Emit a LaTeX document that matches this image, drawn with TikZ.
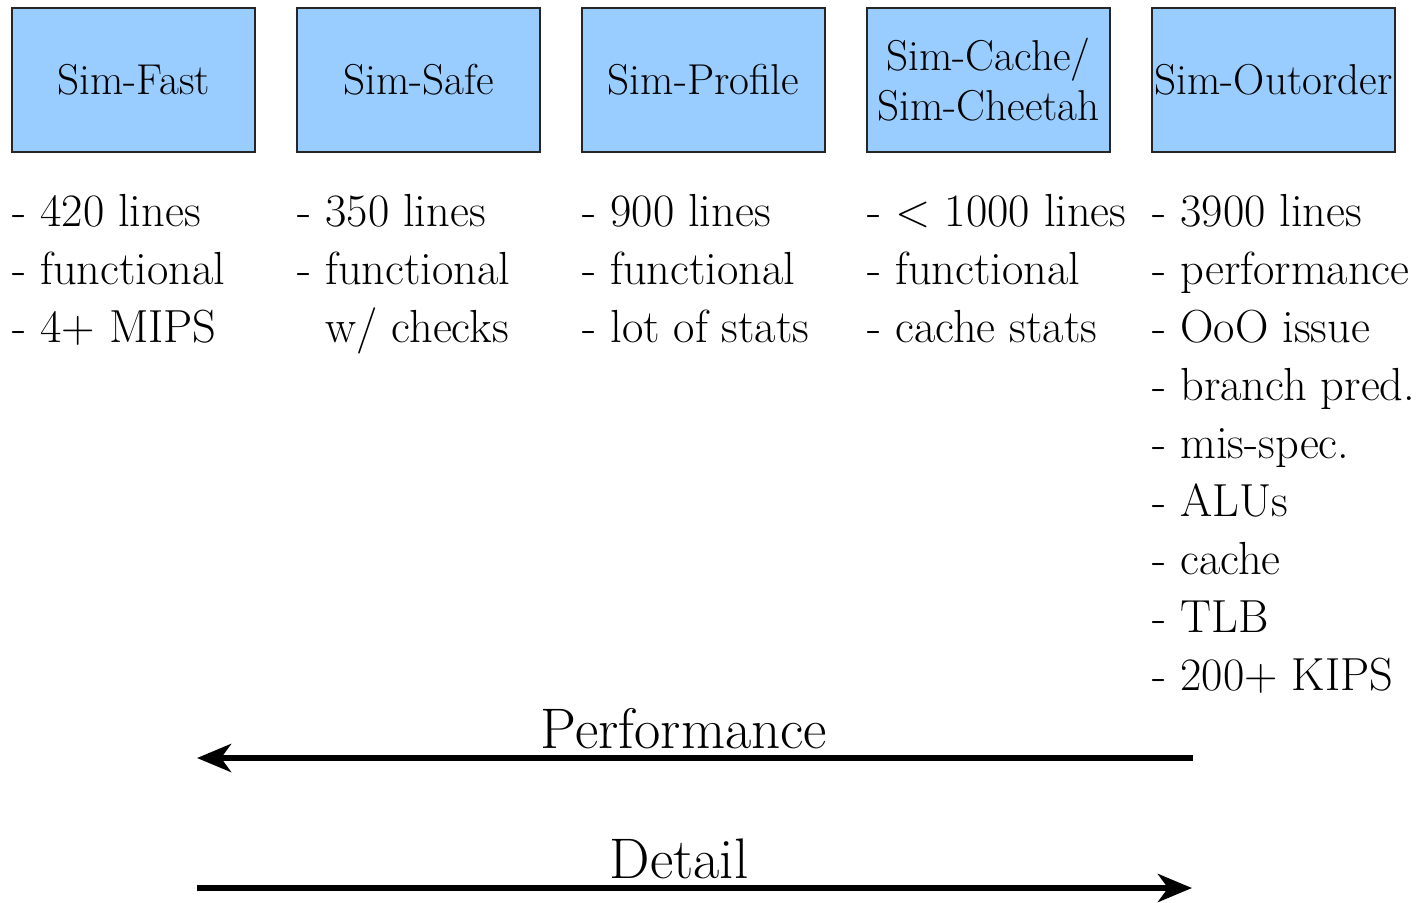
\documentclass[tikz,border=0pt]{standalone}
\usepackage{xcolor}
\usepackage{tikz}
\usetikzlibrary{arrows.meta}
\definecolor{simblue}{RGB}{153,204,255}
\tikzset{
  simbox/.style={draw=black!85, line width=1.2pt, fill=simblue, minimum width=121.5pt,
    minimum height=72pt, inner sep=0pt, align=center, font=\fontsize{21.6}{25}\selectfont},
  notes/.style={anchor=north west, inner sep=0pt, align=left, execute at begin node=\strut,
    font=\fontsize{23.2}{29}\selectfont},
  bigarrow/.style={line width=3pt, -{Stealth[length=17pt,width=14pt,inset=5pt]}},
  axislabel/.style={anchor=base, inner sep=0pt, font=\fontsize{28.6}{32}\selectfont}
}

\begin{document}
\begin{tikzpicture}[x=1pt,y=1pt]
\useasboundingbox (0,0) rectangle (712.5,-451);
% simulators
\node[simbox] (fast) at (66.75,-40) {Sim-Fast};
\node[simbox] (safe) at (209.25,-40) {Sim-Safe};
\node[simbox] (profile) at (351.75,-40) {Sim-Profile};
\node[simbox] (cache) at (494.25,-40) {Sim-Cache/\\Sim-Cheetah};
\node[simbox] (outorder) at (636.75,-40) {Sim-Outorder};
% features
\node[notes] (fastnotes) at (6,-97) {- 420 lines\\- functional\\- 4+ MIPS};
\node[notes] (safenotes) at (148.5,-97) {- 350 lines\\- functional\\\phantom{- }w/ checks};
\node[notes] (profilenotes) at (291,-97) {- 900 lines\\- functional\\- lot of stats};
\node[notes] (cachenotes) at (433.5,-97) {- < 1000 lines\\- functional\\- cache stats};
\node[notes] (outordernotes) at (576,-97) {- 3900 lines\\- performance\\- OoO issue\\- branch pred.\\- mis-spec.\\- ALUs\\- cache\\- TLB\\- 200+ KIPS};
% trade-off
\coordinate (perfstart) at (596.5,-379);
\coordinate (perfend) at (98.5,-379);
\coordinate (detstart) at (98.5,-444);
\coordinate (detend) at (596,-444);
\node[axislabel] (perf) at (342,-374) {Performance};
\node[axislabel] (detail) at (339.5,-439) {Detail};
\draw[bigarrow] (perfstart)--(perfend);
\draw[bigarrow] (detstart)--(detend);
\end{tikzpicture}
\end{document}
